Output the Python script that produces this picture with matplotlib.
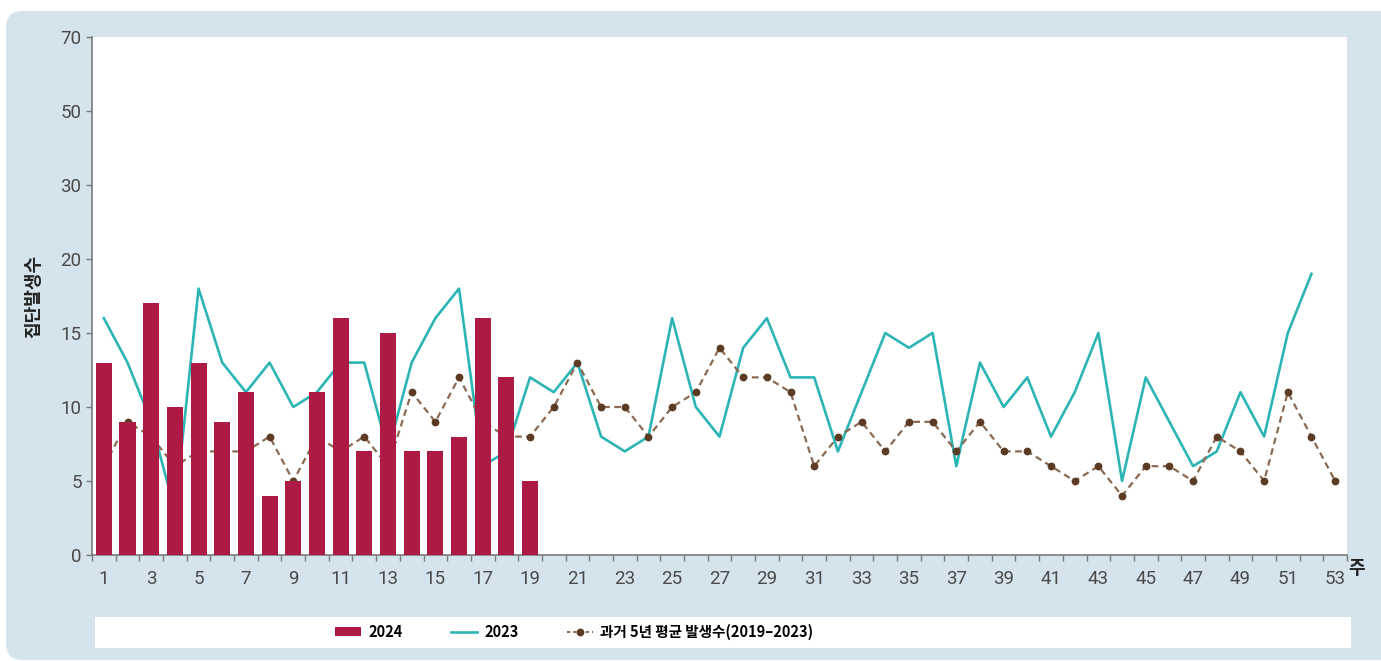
import numpy as np
import matplotlib
matplotlib.use("Agg")
import matplotlib.pyplot as plt
from matplotlib.patches import FancyBboxPatch, Rectangle, Patch
from matplotlib.lines import Line2D

# Data (weekly cluster outbreak counts)
weeks_2024 = list(range(1, 20))
cases_2024 = [13, 9, 17, 10, 13, 9, 11, 4, 5, 11, 16, 7, 15, 7, 7, 8, 16, 12, 5]

weeks_2023 = list(range(1, 53))
cases_2023 = [16, 13, 9, 3, 18, 13, 11, 13, 10, 11, 13, 13, 7, 13, 16, 18, 6, 7, 12, 11,
              13, 8, 7, 8, 16, 10, 8, 14, 16, 12, 12, 7, 11, 15, 14, 15, 6, 13, 10, 12,
              8, 11, 15, 5, 12, 9, 6, 7, 11, 8, 15, 19]

weeks_avg = list(range(1, 54))
cases_avg = [6, 9, 8, 6, 7, 7, 7, 8, 5, 8, 7, 8, 6, 11, 9, 12, 9, 8, 8, 10,
             13, 10, 10, 8, 10, 11, 14, 12, 12, 11, 6, 8, 9, 7, 9, 9, 7, 9, 7, 7,
             6, 5, 6, 4, 6, 6, 5, 8, 7, 5, 11, 8, 5]

y_ticks = [0, 5, 10, 15, 20, 30, 50, 70]
x_labels = list(range(1, 54, 2))

label_2024 = "2024"
label_2023 = "2023"
label_avg = "과거 5년 평균 발생수(2019–2023)"

# Colours
bar_color = "#ad1a43"
teal = "#2db5b6"
brown_line = "#8a6a52"
brown_dot = "#5c3b24"
panel_color = "#d4e3ec"
axis_color = "#7a7a7a"
tick_text = "#4a4a4a"

plt.rcParams['font.family'] = ['Roboto', 'Noto Sans CJK KR', 'DejaVu Sans']

W, H = 1381, 661
fig = plt.figure(figsize=(W / 100, H / 100), dpi=100)
fig.patch.set_facecolor("white")

# Rounded light-blue panel behind everything
panel = FancyBboxPatch((6 / W, 1 / H), 1420 / W, 649 / H,
                       boxstyle="round,pad=0,rounding_size=0.012",
                       transform=fig.transFigure, facecolor=panel_color,
                       edgecolor="none", zorder=-2, mutation_aspect=W / H)
fig.patches.append(panel)

# White band for the legend
band = Rectangle((95 / W, (H - 648) / H), (1351 - 95) / W, 31 / H,
                 transform=fig.transFigure, facecolor="white", edgecolor="none", zorder=-1)
fig.patches.append(band)

ax = fig.add_axes([92 / W, (H - 555) / H, (1347 - 92) / W, (555 - 37) / H])
ax.set_facecolor("white")
ax.set_zorder(2)

# Piecewise y scale: 0-20 linear, then 20,30,50,70 equally spaced
yk = [0, 20, 30, 50, 70]
uk = [0, 4, 5, 6, 7]
fwd = lambda v: np.interp(v, yk, uk)
inv = lambda u: np.interp(u, uk, yk)
ax.set_yscale('function', functions=(fwd, inv))

ax.plot(weeks_2023, cases_2023, color=teal, linewidth=1.9, zorder=2)
ax.plot(weeks_avg, cases_avg, color=brown_line, linewidth=1.6, dashes=(3.0, 2.0),
        marker='o', markersize=4.6, markerfacecolor=brown_dot, markeredgecolor=brown_dot,
        zorder=2)
ax.bar(weeks_2024, cases_2024, width=0.68, color=bar_color, zorder=3)

ax.set_xlim(0.5, 53.5)
ax.set_ylim(0, 70)

ax.set_yticks(y_ticks)
ax.set_yticklabels([str(v) for v in y_ticks])
ax.set_xticks(x_labels)
ax.set_xticklabels([str(v) for v in x_labels])
ax.set_xticks(np.arange(0.5, 54, 1), minor=True)

ax.tick_params(axis='x', which='major', length=0, pad=11, labelsize=13.5, labelcolor=tick_text)
ax.tick_params(axis='x', which='minor', length=4.5, width=1, color=axis_color, direction='out')
ax.tick_params(axis='y', which='major', length=4.5, width=1, color=axis_color, pad=3,
               labelsize=13.5, labelcolor=tick_text)
ax.tick_params(axis='y', which='minor', length=0)

for side in ['top', 'right']:
    ax.spines[side].set_visible(False)
for side in ['left', 'bottom']:
    ax.spines[side].set_color(axis_color)
    ax.spines[side].set_linewidth(1.2)

ax.set_ylabel("집단발생수", fontsize=13, fontweight='bold', family=['Noto Sans CJK KR'],
              color="#222222")
ax.yaxis.set_label_coords(-0.039, 0.5)

fig.text(1357 / W, (H - 568) / H, "주", fontsize=13, fontweight='bold',
         family=['Noto Sans CJK KR'], ha='center', va='center', color="#222222")

# Legend
handles = [
    Patch(facecolor=bar_color, edgecolor='none'),
    Line2D([], [], color=teal, linewidth=1.9),
    Line2D([], [], color=brown_line, linewidth=1.5, dashes=(1.5, 1.5), marker='o',
           markersize=4.6, markerfacecolor=brown_dot, markeredgecolor=brown_dot),
]
leg = fig.legend(handles, [label_2024, label_2023, label_avg], loc='center',
                 bbox_to_anchor=(574 / W, (H - 632) / H), ncol=3, frameon=False,
                 prop=dict(family=['Noto Sans CJK KR', 'DejaVu Sans'], size=10.5, weight='bold'),
                 handlelength=1.8, handleheight=0.6, handletextpad=0.5, columnspacing=3.3)

plt.savefig("out.png", dpi=100, facecolor=fig.get_facecolor())
